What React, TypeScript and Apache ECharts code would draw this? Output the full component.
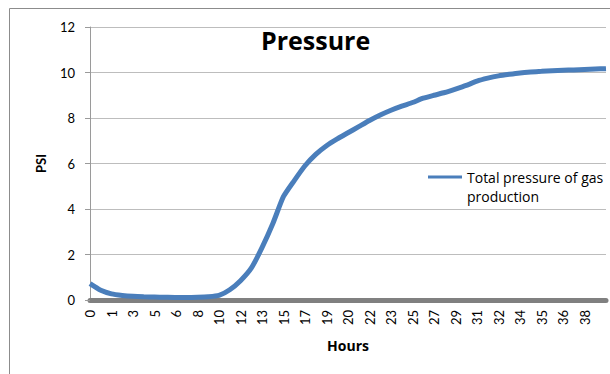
import React, { useEffect, useRef } from "react";
import * as echarts from "echarts";

const tickLabels = ["0", "1", "3", "5", "6", "8", "10", "12", "13", "15", "17", "19", "20", "22", "23", "25", "27", "29", "31", "32", "34", "35", "36", "38"];

// pressure read every half label-step along the category axis (49 points)
const pressure = [
  0.72, 0.43, 0.27, 0.2, 0.16, 0.14, 0.13, 0.12, 0.11, 0.11,
  0.12, 0.14, 0.2, 0.45, 0.85, 1.4, 2.3, 3.35, 4.55, 5.25,
  5.9, 6.4, 6.78, 7.08, 7.35, 7.62, 7.89, 8.13, 8.34, 8.52,
  8.68, 8.87, 9.0, 9.12, 9.27, 9.43, 9.62, 9.75, 9.85, 9.92,
  9.98, 10.02, 10.05, 10.08, 10.1, 10.11, 10.13, 10.15, 10.17,
];

const seriesName = "Total pressure of gas production";
const legendLines = ["Total pressure of gas", "production"];
const categories: string[] = tickLabels.flatMap((l) => [l, ""]).concat([""]);

const FONT = "Lato, 'Open Sans', sans-serif";
const OS = "'Open Sans', sans-serif";

export default function App() {
  const ref = useRef<HTMLDivElement>(null);
  useEffect(() => {
    if (!ref.current) return;
    const chart = echarts.init(ref.current, undefined, { renderer: "svg" });
    chart.setOption({
      animation: false,
      backgroundColor: "#ffffff",
      textStyle: { fontFamily: FONT },
      title: {
        text: "Pressure",
        left: 261,
        top: 27,
        padding: 0,
        textStyle: { fontSize: 25, fontWeight: "bold", color: "#000", fontFamily: OS },
      },
      legend: {
        left: 428,
        top: 151,
        padding: 0,
        orient: "vertical",
        icon: "rect",
        itemWidth: 34,
        itemHeight: 3,
        data: [seriesName],
        formatter: () => `{a| }\n{a|${legendLines[0]}}\n{a|${legendLines[1]}}`,
        textStyle: {
          fontSize: 14,
          color: "#000",
          fontFamily: OS,
          rich: { a: { fontSize: 14, lineHeight: 19, color: "#000", fontFamily: OS } },
        },
      },
      grid: { left: 90, top: 27, right: 4, bottom: 74, containLabel: false },
      xAxis: {
        type: "category",
        data: categories,
        boundaryGap: false,
        offset: 3,
        name: "Hours",
        nameLocation: "middle",
        nameGap: 35,
        nameTextStyle: { fontSize: 14, fontWeight: "bold", color: "#000", fontFamily: OS },
        axisLine: { show: true, lineStyle: { color: "#808080", width: 5 } },
        axisTick: { show: false },
        axisLabel: { interval: 0, rotate: 90, fontSize: 13, color: "#000", margin: 7, fontFamily: FONT },
        splitLine: { show: false },
      },
      yAxis: {
        type: "value",
        min: 0,
        max: 12,
        interval: 2,
        name: "PSI",
        nameLocation: "middle",
        nameGap: 43,
        nameTextStyle: { fontSize: 13, fontWeight: "bold", color: "#000", fontFamily: FONT },
        axisLine: { show: true, lineStyle: { color: "#9a9a9a", width: 1 } },
        axisTick: { show: true, length: 5, lineStyle: { color: "#9a9a9a" } },
        axisLabel: { fontSize: 13, color: "#000", margin: 15, fontFamily: FONT },
        splitLine: { show: true, lineStyle: { color: "#bdbdbd", width: 1 } },
      },
      graphic: [
        {
          type: "rect",
          shape: { x: 9.5, y: 8.5, width: 700, height: 500 },
          style: { fill: "none", stroke: "#8c8c8c", lineWidth: 1 },
          silent: true,
          z: 100,
        },
      ],
      series: [
        {
          name: seriesName,
          type: "line",
          data: pressure,
          symbol: "none",
          smooth: 0.2,
          lineStyle: { color: "#4a7ebb", width: 5 },
          itemStyle: { color: "#4a7ebb" },
        },
      ],
    });
    return () => chart.dispose();
  }, []);
  return (
    <div
      ref={ref}
      style={{ position: "fixed", left: 0, top: 0, width: 610, height: 374 }}
    />
  );
}
